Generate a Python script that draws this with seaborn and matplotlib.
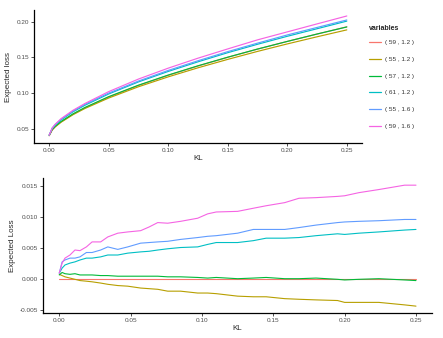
import numpy as np
import pandas as pd
import matplotlib
matplotlib.use("Agg")
import matplotlib.pyplot as plt
import seaborn as sns

# series names and ggplot hue colours
series = ["( 59 , 1.2 )", "( 55 , 1.2 )", "( 57 , 1.2 )",
          "( 61 , 1.2 )", "( 55 , 1.6 )", "( 59 , 1.6 )"]
colors = ["#F8766D", "#B79F00", "#00BA38", "#00BFC4", "#619CFF", "#F564E3"]

# top panel: expected loss vs KL
kl_top = [0, 0.0025, 0.005, 0.01, 0.02, 0.03, 0.05, 0.075, 0.1, 0.125,
          0.15, 0.175, 0.2, 0.225, 0.25]
top_59_12 = [0.0400, 0.0480, 0.0525, 0.0595, 0.0703, 0.0793, 0.0945, 0.1107,
             0.1250, 0.1380, 0.1502, 0.1617, 0.1725, 0.1828, 0.1930]
top_55_12 = [0.0408, 0.0484, 0.0527, 0.0592, 0.0697, 0.0784, 0.0931, 0.1089,
             0.1228, 0.1355, 0.1473, 0.1585, 0.1690, 0.1790, 0.1887]
top_57_12 = [0.0408, 0.0490, 0.0534, 0.0602, 0.0709, 0.0798, 0.0950, 0.1111,
             0.1253, 0.1383, 0.1504, 0.1618, 0.1725, 0.1829, 0.1928]
top_61_12 = [0.0410, 0.0501, 0.0550, 0.0624, 0.0737, 0.0829, 0.0988, 0.1157,
             0.1304, 0.1439, 0.1567, 0.1685, 0.1797, 0.1903, 0.2010]
top_55_16 = [0.0410, 0.0510, 0.0559, 0.0633, 0.0747, 0.0842, 0.1000, 0.1169,
             0.1318, 0.1454, 0.1582, 0.1701, 0.1816, 0.1921, 0.2026]
top_59_16 = [0.0410, 0.0510, 0.0562, 0.0642, 0.0759, 0.0854, 0.1021, 0.1197,
             0.1350, 0.1490, 0.1620, 0.1747, 0.1859, 0.1971, 0.2082]

# bottom panel: expected loss relative to ( 59 , 1.2 )
kl_bot = [0, 0.002, 0.004, 0.0075, 0.011, 0.0145, 0.019, 0.023, 0.029, 0.034,
          0.041, 0.048, 0.057, 0.063, 0.069, 0.076, 0.085, 0.097, 0.104, 0.11,
          0.125, 0.136, 0.145, 0.158, 0.168, 0.18, 0.195, 0.2, 0.21, 0.224,
          0.242, 0.25]
bot_59_12 = [0.0] * len(kl_bot)
bot_55_12 = [0.0008, 0.0006, 0.0004, 0.0002, 0.0, -0.0002, -0.0003, -0.0004,
             -0.0006, -0.0008, -0.0010, -0.0011, -0.0014, -0.0015, -0.0016,
             -0.0019, -0.0019, -0.0022, -0.0022, -0.0023, -0.0027, -0.0028,
             -0.0028, -0.0031, -0.0032, -0.0033, -0.0034, -0.0037, -0.0037,
             -0.0037, -0.0041, -0.0043]
bot_57_12 = [0.0007, 0.0011, 0.0009, 0.0008, 0.0009, 0.0007, 0.0007, 0.0007,
             0.0006, 0.0006, 0.0005, 0.0005, 0.0005, 0.0005, 0.0005, 0.0004,
             0.0004, 0.0003, 0.0002, 0.0003, 0.0001, 0.0002, 0.0003, 0.0001,
             0.0001, 0.0002, 0.0000, -0.0001, 0.0000, 0.0001, -0.0001, -0.0002]
bot_61_12 = [0.0010, 0.0018, 0.0023, 0.0026, 0.0028, 0.0031, 0.0034, 0.0034,
             0.0036, 0.0039, 0.0039, 0.0042, 0.0044, 0.0045, 0.0047, 0.0049,
             0.0051, 0.0052, 0.0056, 0.0059, 0.0059, 0.0062, 0.0066, 0.0066,
             0.0067, 0.0070, 0.0073, 0.0072, 0.0074, 0.0076, 0.0079, 0.0080]
bot_55_16 = [0.0010, 0.0028, 0.0031, 0.0034, 0.0034, 0.0036, 0.0043, 0.0043,
             0.0047, 0.0052, 0.0048, 0.0052, 0.0058, 0.0059, 0.0060, 0.0061,
             0.0064, 0.0067, 0.0069, 0.0070, 0.0074, 0.0080, 0.0080, 0.0080,
             0.0083, 0.0087, 0.0091, 0.0092, 0.0093, 0.0094, 0.0096, 0.0096]
bot_59_16 = [0.0010, 0.0026, 0.0034, 0.0039, 0.0047, 0.0046, 0.0052, 0.0060,
             0.0060, 0.0068, 0.0074, 0.0076, 0.0078, 0.0084, 0.0091, 0.0090,
             0.0093, 0.0098, 0.0105, 0.0108, 0.0109, 0.0114, 0.0118, 0.0123,
             0.0130, 0.0131, 0.0133, 0.0134, 0.0139, 0.0144, 0.0151, 0.0151]


def long_df(kl, cols):
    parts = []
    for name, vals in zip(series, cols):
        parts.append(pd.DataFrame({"KL": kl, "value": vals, "variables": name}))
    return pd.concat(parts, ignore_index=True)


top_df = long_df(kl_top, [top_59_12, top_55_12, top_57_12, top_61_12, top_55_16, top_59_16])
bot_df = long_df(kl_bot, [bot_59_12, bot_55_12, bot_57_12, bot_61_12, bot_55_16, bot_59_16])

sns.set_theme(style="white")
plt.rcParams["font.family"] = ["Liberation Sans", "DejaVu Sans"]

fig = plt.figure(figsize=(4.43, 3.38), dpi=100)
ax1 = fig.add_axes([0.0767, 0.577, 0.740, 0.393])
ax2 = fig.add_axes([0.0971, 0.074, 0.878, 0.399])

sns.lineplot(data=top_df, x="KL", y="value", hue="variables", palette=colors,
             linewidth=0.85, ax=ax1)
sns.lineplot(data=bot_df, x="KL", y="value", hue="variables", palette=colors,
             linewidth=0.8, ax=ax2, legend=False)

ax1.set_xlim(-0.0128, 0.2626)
ax1.set_ylim(0.030, 0.2164)
ax1.set_xticks([0, 0.05, 0.10, 0.15, 0.20, 0.25])
ax1.set_yticks([0.05, 0.10, 0.15, 0.20])
ax1.set_ylabel("Expected loss")

ax2.set_xlim(-0.0114, 0.2612)
ax2.set_ylim(-0.0054, 0.01623)
ax2.set_xticks([0, 0.05, 0.10, 0.15, 0.20, 0.25])
ax2.set_yticks([-0.005, 0, 0.005, 0.010, 0.015])
ax2.set_ylabel("Expected Loss")

for ax in (ax1, ax2):
    ax.xaxis.set_major_formatter(matplotlib.ticker.FormatStrFormatter("%.2f"))
    ax.yaxis.set_major_formatter(matplotlib.ticker.FormatStrFormatter(
        "%.2f" if ax is ax1 else "%.3f"))
    ax.set_xlabel("KL", fontsize=5.8, labelpad=1.5)
    ax.yaxis.label.set_size(5.8)
    ax.yaxis.labelpad = 3
    for side in ("top", "right"):
        ax.spines[side].set_visible(False)
    for side in ("left", "bottom"):
        ax.spines[side].set_color("black")
        ax.spines[side].set_linewidth(0.9)
    ax.tick_params(axis="both", labelsize=4.6, labelcolor="#4D4D4D", length=2,
                   width=0.6, color="#333333", pad=1.5, direction="out",
                   bottom=True, left=True)

leg = ax1.legend(title="variables", loc="upper left", bbox_to_anchor=(0.832, 0.927),
                 bbox_transform=fig.transFigure, frameon=False, fontsize=4.6,
                 title_fontsize=5.0, handlelength=2.0, handletextpad=0.5,
                 labelspacing=1.75, borderaxespad=0, borderpad=0)
leg.get_title().set_fontweight("bold")
leg._legend_box.align = "left"
leg._legend_box.sep = 6
for line in leg.get_lines():
    line.set_linewidth(0.9)
for t in leg.get_texts():
    t.set_color("#333333")

fig.savefig("out.png", dpi=100)
